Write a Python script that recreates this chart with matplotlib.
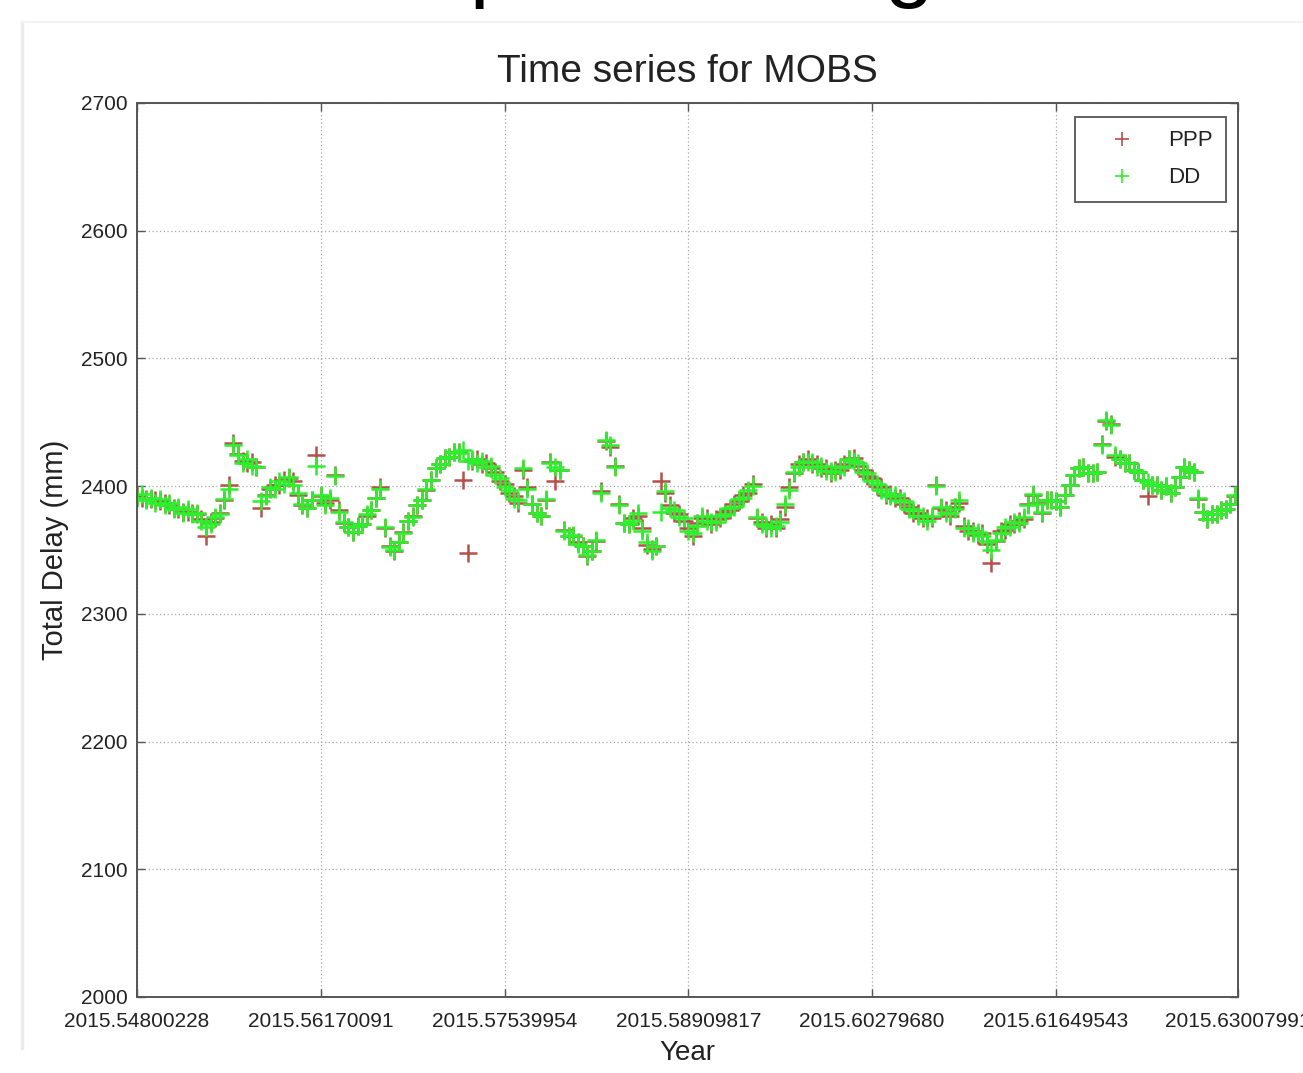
import numpy as np
import matplotlib
matplotlib.use("Agg")
import matplotlib.pyplot as plt

plt.rcParams['font.family'] = ['Liberation Sans', 'DejaVu Sans']

# Epochs: 3-hourly samples starting at the first epoch (decimal year)
t_start = 2015.54800228
sample_hours = 3.0

# Zenith total delay (mm), double-difference solution
dd = [
    2391, 2394, 2389, 2391, 2387, 2390, 2385, 2387, 2382, 2384, 2379, 2382,
    2378, 2379, 2373, 2368, 2370, 2376, 2378, 2390, 2398, 2432, 2424, 2418,
    2421, 2416, 2415, 2388, 2392, 2399, 2398, 2404, 2402, 2407, 2401, 2395,
    2386, 2383, 2389, 2416, 2393, 2385, 2391, 2408, 2380, 2372, 2368, 2364,
    2369, 2370, 2378, 2381, 2391, 2398, 2368, 2352, 2350, 2356, 2363, 2373,
    2376, 2385, 2389, 2398, 2405, 2414, 2417, 2422, 2423, 2427, 2426, 2428,
    2420, 2421, 2418, 2420, 2415, 2416, 2409, 2406, 2399, 2397, 2390, 2389,
    2414, 2398, 2386, 2379, 2377, 2390, 2418, 2415, 2413, 2365, 2361, 2362,
    2355, 2353, 2346, 2349, 2358, 2395, 2436, 2432, 2415, 2385, 2371, 2370,
    2373, 2379, 2365, 2356, 2349, 2353, 2380, 2396, 2383, 2381, 2376, 2375,
    2365, 2363, 2369, 2377, 2373, 2372, 2372, 2377, 2378, 2383, 2384, 2390,
    2391, 2397, 2400, 2376, 2370, 2369, 2367, 2369, 2372, 2386, 2397, 2411,
    2415, 2419, 2419, 2419, 2415, 2416, 2412, 2412, 2411, 2415, 2415, 2421,
    2420, 2418, 2411, 2410, 2404, 2402, 2397, 2395, 2392, 2393, 2389, 2388,
    2382, 2381, 2377, 2377, 2373, 2377, 2400, 2384, 2379, 2379, 2382, 2389,
    2367, 2367, 2363, 2364, 2361, 2357, 2350, 2358, 2363, 2368, 2368, 2372,
    2371, 2376, 2385, 2394, 2386, 2380, 2389, 2389, 2388, 2384, 2393, 2401,
    2409, 2414, 2415, 2410, 2410, 2411, 2432, 2452, 2448, 2424, 2421, 2418,
    2418, 2413, 2411, 2405, 2403, 2401, 2401, 2397, 2400, 2395, 2399, 2407,
    2415, 2413, 2411, 2391, 2380, 2374, 2378, 2378, 2381, 2382, 2386, 2393,
]

# Zenith total delay (mm), precise point positioning solution
ppp = [
    2392, 2391, 2390, 2390, 2389, 2388, 2387, 2385, 2383, 2382, 2380, 2380,
    2379, 2378, 2374, 2361, 2372, 2375, 2379, 2389, 2401, 2434, 2425, 2420,
    2418, 2419, 2415, 2383, 2393, 2398, 2401, 2401, 2405, 2406, 2404, 2393,
    2385, 2383, 2389, 2424, 2392, 2387, 2389, 2409, 2381, 2371, 2368, 2364,
    2369, 2370, 2377, 2381, 2391, 2399, 2367, 2353, 2349, 2356, 2364, 2373,
    2377, 2385, 2389, 2397, 2405, 2414, 2417, 2422, 2423, 2427, 2427, 2405,
    2348, 2420, 2421, 2417, 2418, 2414, 2411, 2404, 2402, 2395, 2392, 2387,
    2413, 2399, 2386, 2379, 2377, 2389, 2419, 2404, 2413, 2366, 2361, 2361,
    2356, 2353, 2345, 2349, 2357, 2396, 2435, 2431, 2416, 2386, 2371, 2370,
    2375, 2377, 2367, 2354, 2351, 2353, 2404, 2395, 2385, 2379, 2378, 2373,
    2367, 2361, 2371, 2375, 2375, 2370, 2374, 2375, 2380, 2381, 2386, 2388,
    2393, 2395, 2402, 2375, 2372, 2367, 2370, 2367, 2374, 2384, 2399, 2410,
    2417, 2419, 2421, 2417, 2417, 2414, 2414, 2410, 2413, 2413, 2417, 2421,
    2422, 2416, 2413, 2408, 2406, 2400, 2399, 2393, 2394, 2391, 2391, 2386,
    2384, 2379, 2379, 2375, 2375, 2375, 2401, 2383, 2381, 2377, 2384, 2387,
    2369, 2365, 2365, 2362, 2363, 2355, 2340, 2357, 2365, 2366, 2370, 2370,
    2373, 2374, 2386, 2393, 2387, 2379, 2389, 2389, 2388, 2384, 2393, 2401,
    2409, 2414, 2415, 2410, 2410, 2411, 2433, 2451, 2449, 2423, 2421, 2418,
    2418, 2413, 2411, 2405, 2392, 2401, 2401, 2397, 2400, 2395, 2399, 2407,
    2415, 2413, 2411, 2390, 2380, 2374, 2378, 2378, 2381, 2382, 2386, 2392,
]

x_ticks = [2015.54800228, 2015.56170091, 2015.57539954, 2015.58909817,
           2015.60279680, 2015.61649543, 2015.63007991]
x_tick_labels = ["2015.54800228", "2015.56170091", "2015.57539954",
                 "2015.58909817", "2015.60279680", "2015.61649543",
                 "2015.63007991"]
y_ticks = [2000, 2100, 2200, 2300, 2400, 2500, 2600, 2700]

epochs = t_start + np.arange(len(dd)) * sample_hours / (24 * 365)

W, H = 1303, 1073
fig = plt.figure(figsize=(W / 100, H / 100), dpi=100)
fig.patch.set_facecolor('white')

# caption line of the page, mostly above the top edge
fig.text(302 / W, 1 + 10 / H, "Temporal change", fontsize=64, color='black',
         ha='left', va='baseline')

# faint border of the embedded figure
fig.add_artist(plt.Line2D([22 / W, 22 / W], [1 - 22 / H, 1 - 1048 / H],
                          transform=fig.transFigure, color='#ececec', lw=2.5))
fig.add_artist(plt.Line2D([22 / W, 1.0], [1 - 22 / H, 1 - 22 / H],
                          transform=fig.transFigure, color='#f3f3f3', lw=1.5))

ax = fig.add_axes([137 / W, 1 - 997 / H, 1101 / W, 894 / H])

ppp_color = '#b5504a'
dd_color = '#2cf02c'
ax.plot(epochs, ppp, linestyle='none', marker='+', markersize=12.5,
        markeredgewidth=1.8, color=ppp_color, label='PPP')
ax.plot(epochs, dd, linestyle='none', marker='+', markersize=12.5,
        markeredgewidth=1.8, color=dd_color, label='DD')

ax.set_xlim(x_ticks[0], x_ticks[-1])
ax.set_ylim(y_ticks[0], y_ticks[-1])
ax.set_xticks(x_ticks)
ax.set_xticklabels(x_tick_labels)
ax.set_yticks(y_ticks)

ax.grid(True, color='#a8a8a8', linestyle=(0, (1, 2)), linewidth=0.9)
ax.set_axisbelow(True)

for sp in ax.spines.values():
    sp.set_color('#555555')
    sp.set_linewidth(1.4)

ax.tick_params(axis='both', direction='in', length=6, width=1.0,
               colors='#555555', labelcolor='#222222', labelsize=15,
               top=True, right=True)
ax.tick_params(axis='x', pad=11)
ax.tick_params(axis='y', pad=7)

ax.set_title("Time series for MOBS", fontsize=28, color='#222222', pad=15)
ax.set_xlabel("Year", fontsize=20, color='#222222')
ax.set_ylabel("Total Delay (mm)", fontsize=21, color='#222222')
ax.xaxis.set_label_coords(0.5, -0.048)
ax.yaxis.set_label_coords(-0.062, 0.5)

leg = ax.legend(loc='upper right', bbox_to_anchor=(1 - 12 / 1101, 1 - 14 / 894),
                borderaxespad=0, fontsize=16, handlelength=3.1,
                handletextpad=0.5, borderpad=0.6, labelspacing=0.72,
                fancybox=False, framealpha=1, edgecolor='#555555')
leg.get_frame().set_linewidth(1.3)
for txt in leg.get_texts():
    txt.set_color('#222222')
for h in leg.legend_handles:
    h.set_markersize(10)
    h.set_markeredgewidth(1.2)

fig.savefig("out.png", dpi=100)
